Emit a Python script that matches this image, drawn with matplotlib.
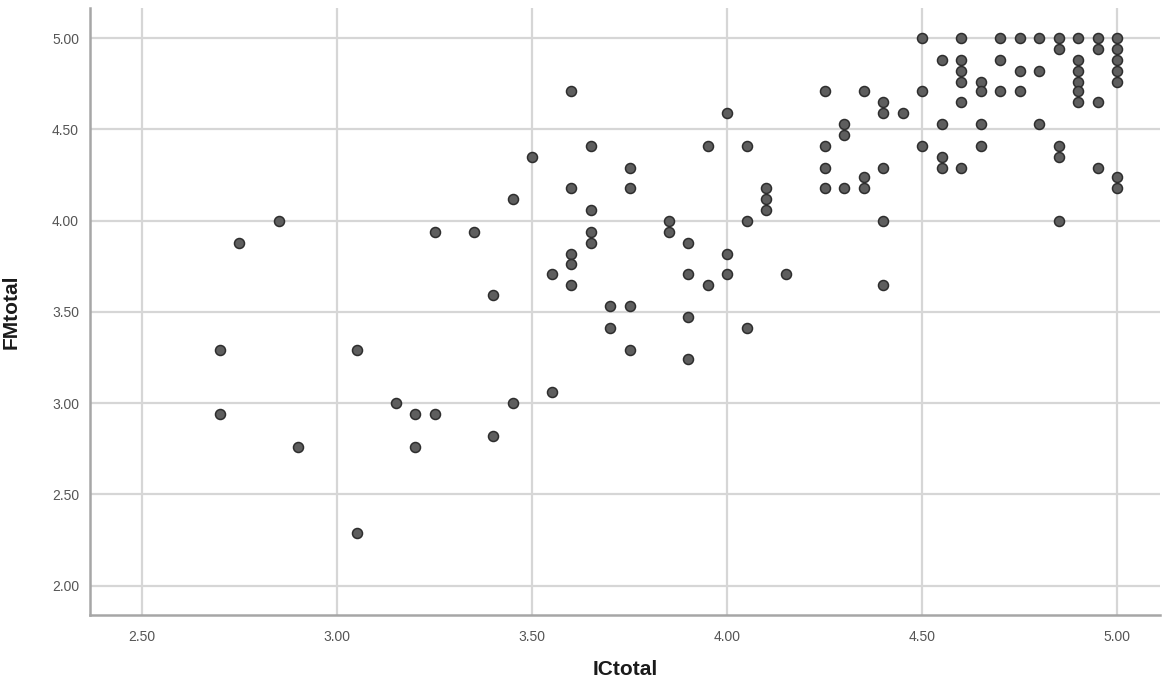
import matplotlib.pyplot as plt
from matplotlib.ticker import FormatStrFormatter

# ICtotal (x) vs FMtotal (y)
ic_total = [2.70, 2.70, 2.75, 2.85, 2.90, 3.05, 3.05, 3.15, 3.20, 3.20,
            3.25, 3.25, 3.35, 3.40, 3.40, 3.45, 3.45, 3.50, 3.55, 3.55,
            3.60, 3.60, 3.60, 3.60, 3.60, 3.65, 3.65, 3.65, 3.65, 3.70,
            3.70, 3.75, 3.75, 3.75, 3.75, 3.85, 3.85, 3.90, 3.90, 3.90,
            3.90, 3.95, 3.95, 4.00, 4.00, 4.00, 4.05, 4.05, 4.05, 4.10,
            4.10, 4.10, 4.15, 4.25, 4.25, 4.25, 4.25, 4.30, 4.30, 4.30,
            4.35, 4.35, 4.35, 4.40, 4.40, 4.40, 4.40, 4.40, 4.45, 4.50,
            4.50, 4.50, 4.55, 4.55, 4.55, 4.55, 4.60, 4.60, 4.60, 4.60,
            4.60, 4.60, 4.65, 4.65, 4.65, 4.65, 4.70, 4.70, 4.70, 4.75,
            4.75, 4.75, 4.80, 4.80, 4.80, 4.85, 4.85, 4.85, 4.85, 4.85,
            4.90, 4.90, 4.90, 4.90, 4.90, 4.90, 4.95, 4.95, 4.95, 4.95,
            5.00, 5.00, 5.00, 5.00, 5.00, 5.00, 5.00]
fm_total = [3.29, 2.94, 3.88, 4.00, 2.76, 3.29, 2.29, 3.00, 2.94, 2.76,
            3.94, 2.94, 3.94, 3.59, 2.82, 4.12, 3.00, 4.35, 3.71, 3.06,
            4.71, 4.18, 3.82, 3.76, 3.65, 4.41, 4.06, 3.94, 3.88, 3.53,
            3.41, 4.29, 4.18, 3.53, 3.29, 4.00, 3.94, 3.88, 3.71, 3.47,
            3.24, 4.41, 3.65, 4.59, 3.82, 3.71, 4.41, 4.00, 3.41, 4.18,
            4.12, 4.06, 3.71, 4.71, 4.41, 4.29, 4.18, 4.53, 4.47, 4.18,
            4.71, 4.24, 4.18, 4.65, 4.59, 4.29, 4.00, 3.65, 4.59, 5.00,
            4.71, 4.41, 4.88, 4.53, 4.35, 4.29, 5.00, 4.88, 4.82, 4.76,
            4.65, 4.29, 4.76, 4.71, 4.53, 4.41, 5.00, 4.88, 4.71, 5.00,
            4.82, 4.71, 5.00, 4.82, 4.53, 5.00, 4.94, 4.41, 4.35, 4.00,
            5.00, 4.88, 4.82, 4.76, 4.71, 4.65, 5.00, 4.94, 4.65, 4.29,
            5.00, 4.94, 4.88, 4.82, 4.76, 4.24, 4.18]

x_ticks = [2.50, 3.00, 3.50, 4.00, 4.50, 5.00]
y_ticks = [2.00, 2.50, 3.00, 3.50, 4.00, 4.50, 5.00]

plt.rcParams['font.family'] = ['Liberation Sans', 'DejaVu Sans']

fig = plt.figure(figsize=(11.62, 6.87), dpi=100)
ax = fig.add_axes([0.0775, 0.105, 0.921, 0.883])

ax.plot(ic_total, fm_total, linestyle='none', marker='o', markersize=7.2,
        markerfacecolor='#5e5e5e', markeredgecolor='#2e2e2e',
        markeredgewidth=1.1, zorder=3)

ax.set_xlim(2.367, 5.11)
ax.set_ylim(1.84, 5.164)
ax.set_xticks(x_ticks)
ax.set_yticks(y_ticks)
ax.xaxis.set_major_formatter(FormatStrFormatter('%.2f'))
ax.yaxis.set_major_formatter(FormatStrFormatter('%.2f'))

ax.grid(True, color='#d6d6d6', linewidth=1.6, zorder=0)
ax.set_axisbelow(True)

for side in ['top', 'right']:
    ax.spines[side].set_visible(False)
for side in ['left', 'bottom']:
    ax.spines[side].set_color('#a6a6a6')
    ax.spines[side].set_linewidth(1.8)

ax.tick_params(length=0, labelsize=10, labelcolor='#555555')
ax.tick_params(axis='x', pad=11)
ax.tick_params(axis='y', pad=8)

ax.set_xlabel('ICtotal', fontsize=15, fontweight='bold', color='#1a1a1a')
ax.set_ylabel('FMtotal', fontsize=15, fontweight='bold', color='#1a1a1a')
ax.xaxis.set_label_coords(0.5, -0.074)
ax.yaxis.set_label_coords(-0.065, 0.5)

fig.savefig('out.png', dpi=100, facecolor='white')
